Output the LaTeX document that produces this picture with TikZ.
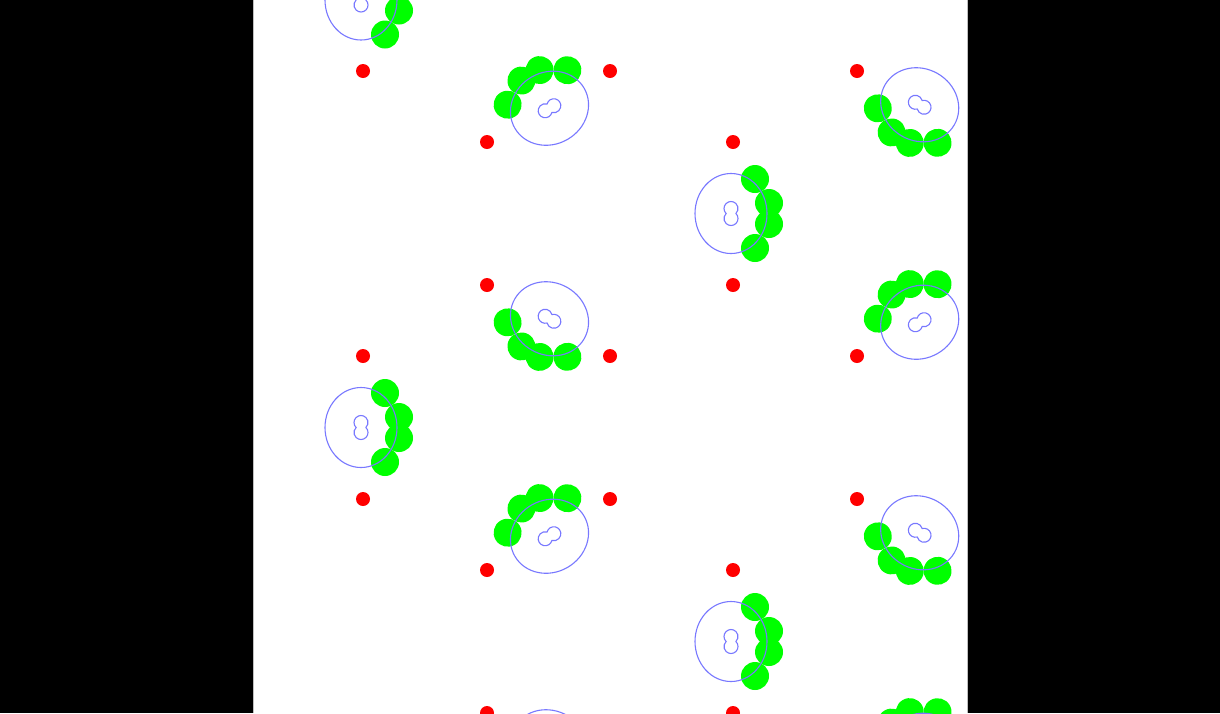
\documentclass[tikz,border=0pt]{standalone}
\usepackage{tikz}
\definecolor{mgreen}{RGB}{0,255,0}
\definecolor{mred}{RGB}{255,0,0}
\definecolor{mblue}{RGB}{120,120,255}
\tikzset{
  reddot/.style={fill=mred},
  greenball/.style={fill=mgreen},
  shell/.style={draw=mblue, line width=1.1pt},
  mol/.pic={
    \fill[greenball] (22,-34.5) circle (14);
    \fill[greenball] (22,34.5) circle (14);
    \fill[greenball] (36,-10.5) circle (14);
    \fill[greenball] (36,10.5) circle (14);
    \draw[shell] (-2,0) ellipse [x radius=36, y radius=40];
    \draw[shell] (2.9,0) arc [start angle=-45.6, end angle=225.6, radius=7]
                 arc [start angle=134.4, end angle=405.6, radius=7] -- cycle;
  }
}
\begin{document}
\begin{tikzpicture}[x=1pt,y=-1pt]
\useasboundingbox (0,0) rectangle (1220,713);
\clip (0,0) rectangle (1220,713);
\fill[black] (0,0) rectangle (1220,713);
\fill[white] (253,0) rectangle (967,713);
\draw[gray!50, line width=1pt] (253,0) -- (253,713);
\draw[gray!50, line width=1pt] (967,0) -- (967,713);
% red dots
\foreach \p in {(363,71),(363,356),(363,499),
                (487,142),(487,285),(487,570),(487,713),
                (610,71),(610,356),(610,499),
                (733,142),(733,285),(733,570),(733,713),
                (857,71),(857,356),(857,499)}
  \fill[reddot] \p circle (7);
% molecules
\pic at (363,0) {mol};
\pic at (733,213.5) {mol};
\pic at (363,427.5) {mol};
\pic at (733,641.5) {mol};
\pic[rotate=120] at (548.5,106.5) {mol};
\pic[rotate=120] at (918.7,320.5) {mol};
\pic[rotate=120] at (548.5,534.5) {mol};
\pic[rotate=120] at (918.7,748.5) {mol};
\pic[rotate=-120] at (918.7,106.5) {mol};
\pic[rotate=-120] at (548.5,320.5) {mol};
\pic[rotate=-120] at (918.7,534.5) {mol};
\pic[rotate=-120] at (548.5,748.5) {mol};
\end{tikzpicture}
\end{document}
